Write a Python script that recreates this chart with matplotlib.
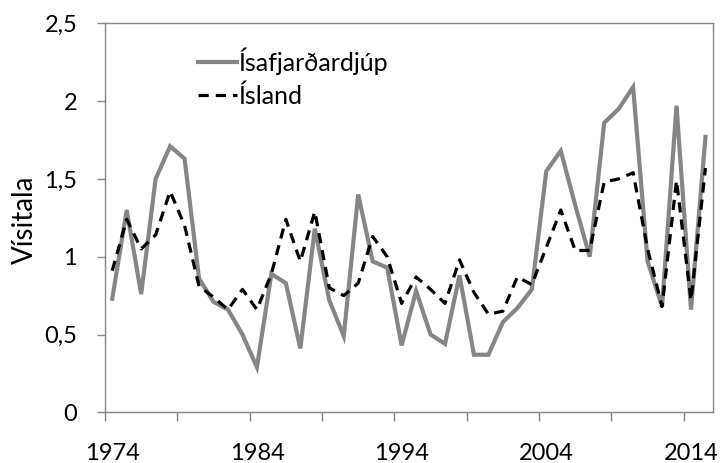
import matplotlib
matplotlib.use("Agg")
import matplotlib.pyplot as plt
from matplotlib.ticker import FixedLocator, FuncFormatter

years = list(range(1974, 2016))

isafjardardjup = [0.73, 1.30, 0.76, 1.50, 1.71, 1.63, 0.86, 0.71, 0.66, 0.50,
                  0.29, 0.89, 0.83, 0.41, 1.18, 0.72, 0.49, 1.40, 0.97, 0.93,
                  0.43, 0.78, 0.50, 0.44, 0.88, 0.37, 0.37, 0.58, 0.67, 0.79,
                  1.55, 1.68, 1.33, 1.00, 1.86, 1.95, 2.09, 0.97, 0.68, 1.97,
                  0.66, 1.77]

island = [0.91, 1.24, 1.05, 1.14, 1.42, 1.20, 0.81, 0.74, 0.66, 0.79,
          0.66, 0.89, 1.24, 0.97, 1.29, 0.80, 0.75, 0.83, 1.13, 1.00,
          0.70, 0.87, 0.79, 0.70, 0.98, 0.77, 0.63, 0.65, 0.87, 0.82,
          1.06, 1.30, 1.04, 1.04, 1.48, 1.50, 1.54, 1.05, 0.68, 1.49,
          0.72, 1.57]

yticks = [0, 0.5, 1, 1.5, 2, 2.5]
xlabels = [1974, 1984, 1994, 2004, 2014]

plt.rcParams['font.family'] = ['Lato', 'DejaVu Sans']

W, H = 720, 463
fig = plt.figure(figsize=(W / 100, H / 100), dpi=100)
left, right, top, bottom = 105, 712.7, 23.3, 412.3
ax = fig.add_axes([left / W, 1 - bottom / H, (right - left) / W, (bottom - top) / H])

grey = '#868686'
ax.plot(years, isafjardardjup, color=grey, lw=3.0, label='Ísafjarðardjúp',
        solid_joinstyle='miter')
ax.plot(years, island, color='black', lw=2.3, dashes=(3.2, 2.2), label='Ísland')

ax.set_xlim(years[0] - 0.5, years[-1] + 0.5)
ax.set_ylim(0, 2.5)

ax.set_yticks(yticks)
ax.yaxis.set_major_formatter(FuncFormatter(lambda v, p: f"{v:g}".replace('.', ',')))
ax.set_xticks(xlabels)
ax.set_xticklabels([str(x) for x in xlabels])
ax.xaxis.set_minor_locator(FixedLocator([years[0] - 0.5 + 5 * k for k in range(9)]))

for s in ax.spines.values():
    s.set_color(grey)
    s.set_linewidth(1.0)

ax.tick_params(axis='y', which='major', direction='out', length=6, width=1,
               color=grey, pad=14, labelsize=17)
ax.tick_params(axis='x', which='major', length=0, pad=22, labelsize=17)
ax.tick_params(axis='x', which='minor', direction='out', length=6.5, width=1,
               color=grey)

fig.text(25 / W, 1 - 220 / H, 'Vísitala', rotation=90, fontsize=20,
         ha='center', va='center')

leg = ax.legend(loc='upper left', bbox_to_anchor=((198 - left) / (right - left), (bottom - 47) / (bottom - top)),
                frameon=False, fontsize=18, borderpad=0, borderaxespad=0,
                handlelength=1.55, handletextpad=0.05, labelspacing=0.38)

fig.savefig('out.png', dpi=100)
